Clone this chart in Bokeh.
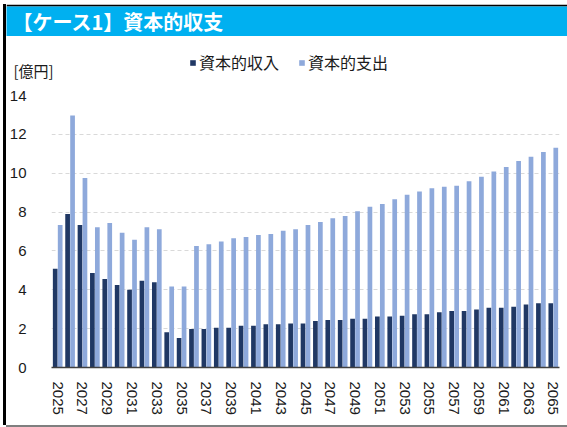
from bokeh.plotting import figure
from bokeh.models import (ColumnDataSource, Range1d, FixedTicker, Legend, LegendItem,
                          Label, Div)
from bokeh.layouts import row, column
from bokeh.transform import dodge
from bokeh.embed import file_html
from bokeh.resources import INLINE

title_text = "【ケース1】資本的収支"
unit_label = "[億円]"
series_names = ["資本的収入", "資本的支出"]

years = list(range(2025, 2066))
tick_years = list(range(2025, 2066, 2))
y_ticks = [0, 2, 4, 6, 8, 10, 12, 14]

income = [5.08, 7.90, 7.34, 4.86, 4.56, 4.24, 4.00, 4.46, 4.39, 1.81, 1.52, 1.98,
          1.98, 2.05, 2.05, 2.15, 2.15, 2.22, 2.22, 2.27, 2.27, 2.39, 2.45, 2.45, 2.51, 2.51,
          2.62, 2.62, 2.67, 2.74, 2.74, 2.84, 2.91, 2.91, 2.98, 3.08, 3.08, 3.13, 3.24, 3.31, 3.31]
expense = [7.34, 12.97, 9.76, 7.22, 7.44, 6.94, 6.58, 7.22, 7.11, 4.17, 4.17, 6.25,
           6.35, 6.49, 6.65, 6.72, 6.82, 6.87, 7.04, 7.11, 7.34, 7.49, 7.68, 7.80, 8.04, 8.27,
           8.42, 8.66, 8.89, 9.06, 9.23, 9.30, 9.35, 9.59, 9.82, 10.09, 10.32, 10.63, 10.85, 11.09, 11.31]

INCOME_COLOR = "#203864"
EXPENSE_COLOR = "#8EA9DB"
TEXT_COLOR = "#1A1A1A"
NUM_FONT = "Liberation Sans"
JP_FONT = "Noto Sans CJK JP"
W = 561

source = ColumnDataSource(dict(year=years, income=income, expense=expense))


def blank_fig(height, fill, border_fill="white", top=0):
    f = figure(width=W, height=height, output_backend="svg", toolbar_location=None,
               x_range=Range1d(0, 1), y_range=Range1d(0, 1),
               x_axis_type=None, y_axis_type=None, frame_align=False,
               min_border_left=0, min_border_right=0, min_border_top=top, min_border_bottom=0)
    f.grid.visible = False
    f.outline_line_color = None
    f.background_fill_color = fill
    f.border_fill_color = border_fill
    return f


# ---- title bar ----
title_fig = blank_fig(32, "#00B0F0", border_fill="#000000", top=2)
title_fig.add_layout(Label(x=6, y=15, x_units="screen", y_units="screen", text=title_text,
                           text_font=JP_FONT, text_font_size="20px",
                           text_font_style="bold", text_color="white",
                           text_baseline="middle", text_align="left"))

# ---- header with unit label and legend ----
head = blank_fig(44, "white")
h1 = head.vbar(x="year", top="income", width=0.38, source=source,
               fill_color=INCOME_COLOR, line_color=None, visible=False)
h2 = head.vbar(x="year", top="expense", width=0.38, source=source,
               fill_color=EXPENSE_COLOR, line_color=None, visible=False)
legend = Legend(items=[LegendItem(label=series_names[0], renderers=[h1], index=0),
                       LegendItem(label=series_names[1], renderers=[h2], index=0)],
                location=(183, 6), orientation="horizontal",
                border_line_color=None, background_fill_alpha=0,
                inactive_fill_alpha=0,
                padding=0, margin=0, spacing=19,
                glyph_width=7, glyph_height=7, label_standoff=3, label_height=16,
                label_text_font=JP_FONT, label_text_font_size="16px",
                label_text_color=TEXT_COLOR)
head.add_layout(legend, "center")
head.add_layout(Label(x=7, y=10, x_units="screen", y_units="screen", text=unit_label,
                      text_font=JP_FONT, text_font_size="15px", text_color=TEXT_COLOR,
                      text_baseline="middle", text_align="left"))

# ---- main chart ----
p = figure(width=W, height=345, output_backend="svg", toolbar_location=None,
           x_range=Range1d(2024.5, 2065.5), y_range=Range1d(0, 14), frame_align=False,
           min_border_left=39, min_border_right=8, min_border_top=15, min_border_bottom=58)
p.outline_line_color = None
p.background_fill_color = "white"
p.border_fill_color = "white"

p.vbar(x=dodge("year", -0.2), top="income", width=0.38, source=source,
       fill_color=INCOME_COLOR, line_color=None)
p.vbar(x=dodge("year", 0.2), top="expense", width=0.38, source=source,
       fill_color=EXPENSE_COLOR, line_color=None)

p.xaxis.ticker = FixedTicker(ticks=tick_years)
p.xaxis.major_label_orientation = "vertical"
p.xaxis.major_label_text_font = NUM_FONT
p.xaxis.major_label_text_font_size = "15px"
p.xaxis.major_label_text_color = TEXT_COLOR
p.xaxis.major_label_standoff = 8
p.xaxis.major_tick_line_color = None
p.xaxis.minor_tick_line_color = None
p.xaxis.axis_line_color = "#404040"
p.xaxis.axis_line_width = 1.5

p.yaxis.ticker = FixedTicker(ticks=y_ticks)
p.yaxis.major_label_text_font = NUM_FONT
p.yaxis.major_label_text_font_size = "15px"
p.yaxis.major_label_text_color = TEXT_COLOR
p.yaxis.major_label_standoff = 19
p.yaxis.major_tick_line_color = None
p.yaxis.minor_tick_line_color = None
p.yaxis.axis_line_color = None

p.xgrid.grid_line_color = None
p.ygrid.grid_line_color = "#D9D9D9"
p.ygrid.grid_line_dash = "4 3"
p.ygrid.grid_line_width = 1

left_bar = Div(width=3, height=421, text="", margin=0,
               styles={"background-color": "#000000"})
bottom_line = Div(width=W, height=2, text="", margin=0,
                  styles={"background-color": "#7F7F7F"})

layout = row(left_bar, column(title_fig, head, p, bottom_line, spacing=0, margin=0),
             spacing=0, margin=0,
             styles={"position": "absolute", "left": "3px", "top": "4px"})

open("out.html", "w").write(file_html(layout, INLINE))
